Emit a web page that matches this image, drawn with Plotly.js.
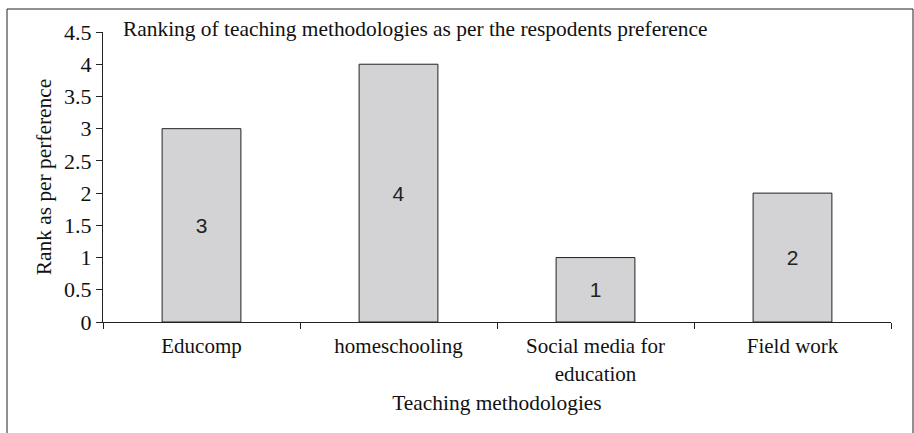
<!DOCTYPE html>
<html>
<head>
<meta charset="utf-8">
<script src="https://cdn.plot.ly/plotly-3.0.1.min.js"></script>
<style>
html,body{margin:0;padding:0;background:#fff;}
#chart{width:914px;height:433px;}
</style>
</head>
<body>
<div id="chart"></div>
<script>
const categories = ["Educomp", "homeschooling", "Social media for<br>education", "Field work"];
const ranks = [3, 4, 1, 2];
const rankLabels = ["3", "4", "1", "2"];
const yTicks = [0, 0.5, 1, 1.5, 2, 2.5, 3, 3.5, 4, 4.5];

const fontFam = "'Liberation Serif', 'Times New Roman', serif";
const L = 103, R = 891, T = 32, B = 322, W = 914, H = 433;
const pw = R - L, ph = B - T;

const trace = {
  type: "bar",
  x: categories,
  y: ranks,
  text: rankLabels,
  textposition: "inside",
  insidetextanchor: "middle",
  textangle: 0,
  textfont: {family: "'Liberation Sans', Arial, sans-serif", size: 21, color: "#222"},
  marker: {color: "#d3d3d5", line: {color: "#222", width: 1}},
  width: 0.4,
  hoverinfo: "none"
};

const layout = {
  width: W, height: H,
  margin: {l: L, r: W - R, t: T, b: H - B, autoexpand: false},
  paper_bgcolor: "#fff", plot_bgcolor: "#fff",
  font: {family: fontFam, size: 21, color: "#111"},
  showlegend: false,
  bargap: 0.6,
  title: {
    text: "Ranking of teaching methodologies as per the respodents preference",
    font: {family: fontFam, size: 21.4, color: "#111"},
    xref: "container", yref: "container",
    x: 123 / W, xanchor: "left",
    y: 1 - 29 / H, yanchor: "middle"
  },
  xaxis: {
    type: "category",
    showline: true, linecolor: "#222", linewidth: 1,
    ticks: "outside", tickson: "boundaries", ticklen: 6, tickcolor: "#222",
    showgrid: false, zeroline: false,
    ticklabelstandoff: 5,
    tickfont: {family: fontFam, size: 21, color: "#111"},
    title: {text: "Teaching methodologies", font: {family: fontFam, size: 21.4, color: "#111"}, standoff: 10},
    automargin: false
  },
  yaxis: {
    range: [0, 4.5],
    tickvals: yTicks,
    showline: true, linecolor: "#222", linewidth: 1,
    ticks: "outside", ticklen: 6, tickcolor: "#222",
    showgrid: false, zeroline: false,
    tickfont: {family: fontFam, size: 22, color: "#111"},
    title: {text: "Rank as per perference", font: {family: fontFam, size: 21.4, color: "#111"}, standoff: 6},
    automargin: false
  },
  shapes: [{
    type: "rect", xref: "paper", yref: "paper",
    x0: (7 - L) / pw, x1: (913 - L) / pw,
    y0: (B - 440) / ph, y1: (B - 9) / ph,
    line: {color: "#222", width: 1}, fillcolor: "rgba(0,0,0,0)", layer: "below"
  }]
};

Plotly.newPlot("chart", [trace], layout, {staticPlot: true, displayModeBar: false});
</script>
</body>
</html>
